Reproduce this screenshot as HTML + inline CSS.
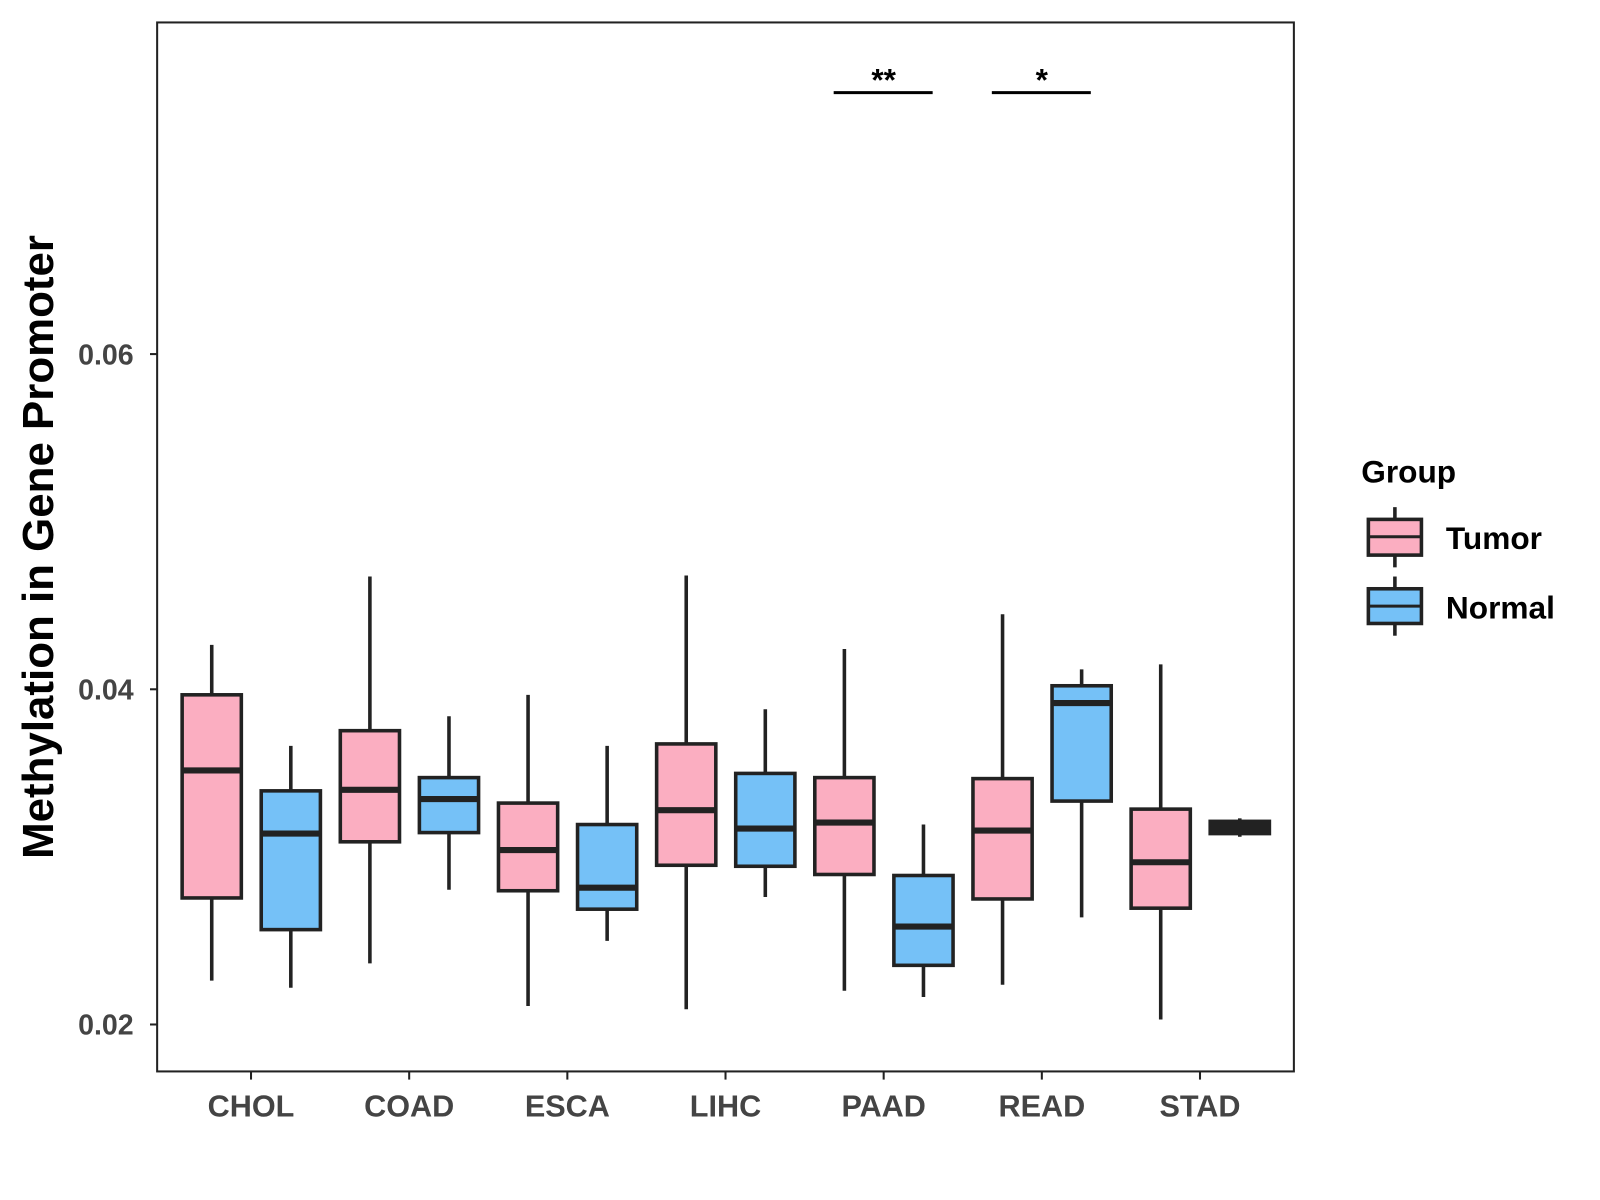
<!DOCTYPE html>
<html><head><meta charset="utf-8"><style>
html,body{margin:0;padding:0;background:#fff;}
svg{display:block;font-family:"Liberation Sans",Arial,sans-serif;}
</style></head><body>
<svg id="chart" width="1600" height="1200" viewBox="0 0 1568 1176">
<rect x="0" y="0" width="1568" height="1176" fill="#fff"/>
<g id="plot"></g>
<rect x="154" y="22" width="1114" height="1028" fill="none" stroke="#222" stroke-width="2"/>
<text x="0" y="0" transform="translate(52,536) rotate(-90)" text-anchor="middle" font-size="43" font-weight="bold" fill="#000">Methylation in Gene Promoter</text>
<g>
<text x="1334" y="473" font-size="31" font-weight="bold" fill="#000">Group</text>
<g>
<line x1="1367" y1="497" x2="1367" y2="556" stroke="#222" stroke-width="3.5"/>
<rect x="1341" y="509" width="52" height="35" fill="#FBAEC1" stroke="#222" stroke-width="3.5"/>
<line x1="1341" y1="526" x2="1393" y2="526" stroke="#222" stroke-width="3"/>
<text x="1417" y="538" font-size="31" font-weight="bold" fill="#000">Tumor</text>
</g>
<g>
<line x1="1367" y1="565" x2="1367" y2="623" stroke="#222" stroke-width="3.5"/>
<rect x="1341" y="577" width="52" height="34" fill="#75C1F7" stroke="#222" stroke-width="3.5"/>
<line x1="1341" y1="594" x2="1393" y2="594" stroke="#222" stroke-width="3"/>
<text x="1417" y="606" font-size="31" font-weight="bold" fill="#000">Normal</text>
</g>
</g>
</svg>
<script>
const categories=["CHOL","COAD","ESCA","LIHC","PAAD","READ","STAD"];
// [lower whisker, q1, median, q3, upper whisker]
const tumorStats=[
[0.02262,0.02755,0.03516,0.03967,0.04265],
[0.02365,0.0309,0.0340,0.03753,0.04673],
[0.0211,0.02798,0.03041,0.03321,0.03967],
[0.02091,0.0295,0.03279,0.03674,0.04679],
[0.02201,0.02895,0.03205,0.03473,0.0424],
[0.02237,0.02749,0.03157,0.03467,0.04448],
[0.0203,0.02694,0.02968,0.03285,0.04149]];
const normalStats=[
[0.02219,0.02566,0.03139,0.03394,0.03662],
[0.02804,0.03145,0.03345,0.03473,0.03839],
[0.02499,0.02688,0.02816,0.03193,0.03662],
[0.02761,0.02944,0.03169,0.03498,0.03881],
[0.02164,0.02353,0.02584,0.02889,0.03193],
[0.02639,0.03333,0.03918,0.04021,0.04119],
[0.0312,0.03139,0.03175,0.03212,0.0323]];
const yTicks=[0.02,0.04,0.06];
const yTickLabels=["0.02","0.04","0.06"];
const sigIndex=[4,5];
const sigLabels=["**","*"];
const sigLevel=0.0756;

const NS="http://www.w3.org/2000/svg";
const g=document.getElementById('plot');
const yScale=v=>1004-(v-0.02)*16425;
const xScale=i=>246+i*155;
function mk(tag,attrs,parent){const e=document.createElementNS(NS,tag);for(const k in attrs)e.setAttribute(k,attrs[k]);(parent||g).appendChild(e);return e;}

yTicks.forEach((t,i)=>{
  const y=yScale(t);
  const tk=mk('line',{x1:147,x2:154,y1:y,y2:y,stroke:'#222','stroke-width':2});
  
  
  const tx=mk('text',{x:131,y:y+10,'text-anchor':'end','font-size':28,'font-weight':'bold',fill:'#444'});
  tx.textContent=yTickLabels[i];
  
  
});
categories.forEach((c,i)=>{
  const x=xScale(i);
  const tk=mk('line',{x1:x,x2:x,y1:1050,y2:1058,stroke:'#222','stroke-width':2});
  
  
  const tx=mk('text',{x:x,y:1094,'text-anchor':'middle','font-size':30,'font-weight':'bold',fill:'#444'});
  tx.textContent=c;
  
  
});
function drawBox(s,cx,fill,name){
  const grp=mk('g',{});
  
  
  const w=58;
  const h=yScale(s[1])-yScale(s[3]);
  mk('line',{x1:cx,x2:cx,y1:yScale(s[0]),y2:yScale(s[4]),stroke:'#222','stroke-width':3.5},grp);
  mk('rect',{x:cx-w/2,y:yScale(s[3]),width:w,height:Math.max(h,1),fill:h<16?'#222':fill,stroke:'#222','stroke-width':3.5},grp);
  mk('line',{x1:cx-w/2,x2:cx+w/2,y1:yScale(s[2]),y2:yScale(s[2]),stroke:'#222','stroke-width':6},grp);
}
categories.forEach((c,i)=>{
  drawBox(tumorStats[i],xScale(i)-38.5,'#FBAEC1','box-tumor-'+c.toLowerCase());
  drawBox(normalStats[i],xScale(i)+39,'#75C1F7','box-normal-'+c.toLowerCase());
});
sigIndex.forEach((ci,j)=>{
  const x=xScale(ci), y=yScale(sigLevel);
  const ln=mk('line',{x1:x-49,x2:x+48,y1:y,y2:y,stroke:'#000','stroke-width':3});
  
  
  const tx=mk('text',{x:x,y:y-2,'text-anchor':'middle','font-size':31,'font-weight':'bold',fill:'#000'});
  tx.textContent=sigLabels[j];
  
  
});
</script>
</body></html>
